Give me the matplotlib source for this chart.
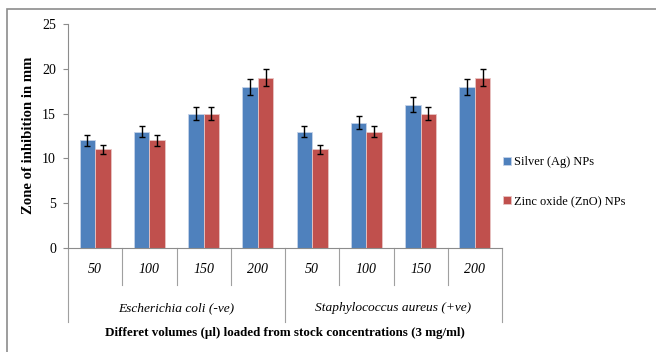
import matplotlib
matplotlib.use('Agg')
import matplotlib.pyplot as plt
from matplotlib.patches import Rectangle
import numpy as np

plt.rcParams['font.family'] = ['Liberation Serif', 'DejaVu Serif']

volumes = ['50', '100', '150', '200', '50', '100', '150', '200']
organisms = ['Escherichia coli (-ve)', 'Staphylococcus aureus (+ve)']
silver = [12, 13, 15, 18, 13, 14, 16, 18]
silver_err = [0.6, 0.65, 0.75, 0.9, 0.65, 0.7, 0.8, 0.9]
zinc = [11, 12, 15, 19, 11, 13, 15, 19]
zinc_err = [0.55, 0.6, 0.75, 0.95, 0.55, 0.65, 0.75, 0.95]

fig = plt.figure(figsize=(6.56, 3.52), dpi=100)
ax = fig.add_axes([68 / 656, 1 - 248 / 352, 434 / 656, 224 / 352])

# outer chart frame
fig.patches.append(Rectangle((7 / 656, -0.5), 2, 1.5 - 9 / 352, transform=fig.transFigure,
                             fill=False, edgecolor='#8c8c8c', linewidth=1.2))

x = np.arange(len(volumes))
w = 0.286
err_kw = dict(ecolor='black', elinewidth=1, capsize=2.5, capthick=1)
b1 = ax.bar(x - w / 2, silver, w, yerr=silver_err, color='#4F81BD', edgecolor='#c5d3e8',
            linewidth=0.6, error_kw=err_kw, label='Silver (Ag) NPs')
b2 = ax.bar(x + w / 2, zinc, w, yerr=zinc_err, color='#C0504D', edgecolor='#e8c4c3',
            linewidth=0.6, error_kw=err_kw, label='Zinc oxide (ZnO) NPs')

ax.set_xlim(-0.5, len(volumes) - 0.5)
ax.set_ylim(0, 25)
ax.set_yticks([0, 5, 10, 15, 20, 25])
ax.tick_params(axis='y', labelsize=10, length=3.6, color='#8c8c8c', pad=5)
ax.set_xticks([])
for s in ['top', 'right']:
    ax.spines[s].set_visible(False)
for s in ['left', 'bottom']:
    ax.spines[s].set_color('#8c8c8c')

# multi-level category axis
tr = ax.get_xaxis_transform()
for i, v in enumerate(volumes):
    ax.text(i, -0.098, v, transform=tr, ha='center', va='center', fontsize=10, style='italic')
for i in range(1, len(volumes)):
    if i == 4:
        continue
    ax.plot([i - 0.5, i - 0.5], [0, -0.165], transform=tr, color='#a0a0a0', lw=0.8, clip_on=False)
for xb in [-0.5, 3.5, 7.5]:
    ax.plot([xb, xb], [0, -0.33], transform=tr, color='#a0a0a0', lw=0.8, clip_on=False)
for j, org in enumerate(organisms):
    ax.text(j * 4 + 1.5, -0.268, org, transform=tr, ha='center', va='center', fontsize=9.6, style='italic')

ax.text(3.5, -0.38, 'Differet volumes (\u00b5l) loaded from stock concentrations (3 mg/ml)',
        transform=tr, ha='center', va='center', fontsize=9.4, fontweight='bold')
fig.text(29 / 656, 1 - 135 / 352, 'Zone of inhibition in mm', rotation=90,
         ha='center', va='center', fontsize=10.6, fontweight='bold')

fig.legend(handles=[b1, b2], loc='center left', bbox_to_anchor=(492 / 656, 1 - 182 / 352),
           frameon=False, fontsize=8.9, handlelength=0.6, handleheight=0.6,
           handletextpad=0.25, labelspacing=2.2)

fig.savefig('out.png', dpi=100)
